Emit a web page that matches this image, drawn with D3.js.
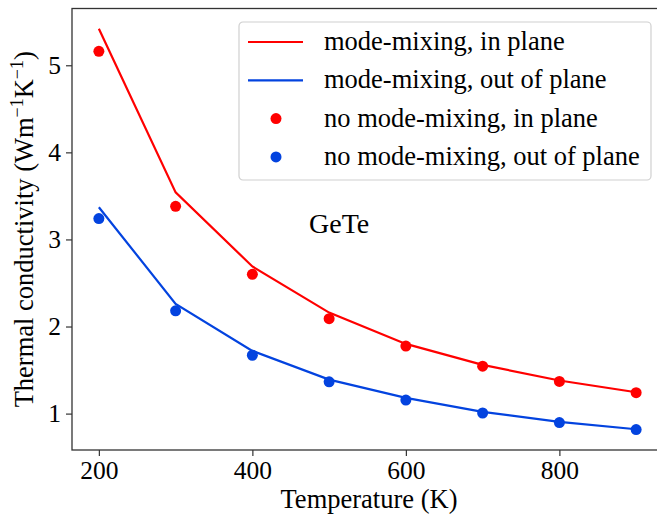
<!DOCTYPE html>
<html>
<head>
<meta charset="utf-8">
<script src="https://cdn.jsdelivr.net/npm/d3@7"></script>
<style>
  body { margin: 0; background: #fff; }
  svg text { font-family: "Liberation Serif", "Times New Roman", serif; fill: #000; }
</style>
</head>
<body>
<script>
var temps = [200, 300, 400, 500, 600, 700, 800, 900];
var mixIn = [5.42, 3.54, 2.69, 2.16, 1.80, 1.56, 1.38, 1.245];
var mixOut = [3.37, 2.26, 1.72, 1.39, 1.18, 1.02, 0.905, 0.82];
var noMixIn = [5.16, 3.38, 2.60, 2.09, 1.775, 1.545, 1.37, 1.24];
var noMixOut = [3.24, 2.18, 1.67, 1.365, 1.155, 1.007, 0.897, 0.816];
var xTicks = [200, 400, 600, 800];
var yTicks = [1, 2, 3, 4, 5];
var legendNames = ["mode-mixing, in plane", "mode-mixing, out of plane",
                   "no mode-mixing, in plane", "no mode-mixing, out of plane"];

var red = "#ff0000";
var blue = "#0343df";

var w = 657;
var h = 517;
var pLeft = 72, pRight = 663, pTop = 8.5, pBottom = 450;

var svg = d3.select("body")
            .append("svg")
            .attr("width", w)
            .attr("height", h);

var xScale = d3.scaleLinear()
              .domain([165, 935])
              .range([pLeft, pRight]);

var yScale = d3.scaleLinear()
              .domain([0.582, 5.652])
              .range([pBottom, pTop]);

var xAxis = d3.axisBottom(xScale)
              .tickValues(xTicks)
              .tickSize(6)
              .tickPadding(5)
              .tickFormat(d3.format("d"));
var yAxis = d3.axisLeft(yScale)
              .tickValues(yTicks)
              .tickSize(6)
              .tickPadding(5)
              .tickFormat(d3.format("d"));

var gx = svg.append("g")
    .attr("transform", "translate(0," + pBottom + ")")
    .call(xAxis);
var gy = svg.append("g")
    .attr("transform", "translate(" + pLeft + ",0)")
    .call(yAxis);

[gx, gy].forEach(function(g) {
  g.select(".domain").remove();
  g.selectAll(".tick line").attr("stroke", "#333").attr("stroke-width", 1.2);
  g.selectAll(".tick text")
    .attr("font-size", 25.5)
    .attr("font-family", "Liberation Serif, serif")
    .attr("fill", "#000");
});
gx.selectAll(".tick text").attr("dy", "0.7em");

// frame
svg.append("rect")
  .attr("x", pLeft)
  .attr("y", pTop)
  .attr("width", pRight - pLeft)
  .attr("height", pBottom - pTop)
  .attr("fill", "none")
  .attr("stroke", "#333")
  .attr("stroke-width", 1.3);

var line = d3.line()
  .x(function(d, i) { return xScale(temps[i]); })
  .y(function(d) { return yScale(d); });

svg.append("path").attr("d", line(mixIn))
  .attr("fill", "none").attr("stroke", red).attr("stroke-width", 2.2);
svg.append("path").attr("d", line(mixOut))
  .attr("fill", "none").attr("stroke", blue).attr("stroke-width", 2.2);

svg.selectAll("circle.in")
  .data(noMixIn)
  .enter()
  .append("circle")
    .attr("class", "in")
    .attr("cx", function(d, i) { return xScale(temps[i]); })
    .attr("cy", function(d) { return yScale(d); })
    .attr("r", 5.5)
    .attr("fill", red);

svg.selectAll("circle.out")
  .data(noMixOut)
  .enter()
  .append("circle")
    .attr("class", "out")
    .attr("cx", function(d, i) { return xScale(temps[i]); })
    .attr("cy", function(d) { return yScale(d); })
    .attr("r", 5.5)
    .attr("fill", blue);

// axis labels
svg.append("text")
  .attr("x", 369)
  .attr("y", 508)
  .attr("text-anchor", "middle")
  .attr("font-size", 26.5)
  .text("Temperature (K)");

var yl = svg.append("text")
  .attr("transform", "translate(33," + ((pTop + pBottom) / 2) + ") rotate(-90)")
  .attr("text-anchor", "middle")
  .attr("font-size", 26.5);
yl.append("tspan").text("Thermal conductivity (Wm");
yl.append("tspan").attr("font-size", 18).attr("dy", -10).text("\u22121");
yl.append("tspan").attr("dy", 10).text("K");
yl.append("tspan").attr("font-size", 18).attr("dy", -10).text("\u22121");
yl.append("tspan").attr("dy", 10).text(")");

svg.append("text")
  .attr("x", 309)
  .attr("y", 233)
  .attr("font-size", 28)
  .text("GeTe");

// legend
var lg = svg.append("g").attr("transform", "translate(239,22)");
lg.append("rect")
  .attr("width", 412)
  .attr("height", 158)
  .attr("rx", 4)
  .attr("fill", "#fff")
  .attr("fill-opacity", 0.8)
  .attr("stroke", "#d0d0d0")
  .attr("stroke-width", 1.2);

var rows = lg.selectAll("g.row")
  .data(legendNames)
  .enter()
  .append("g")
    .attr("class", "row")
    .attr("transform", function(d, i) { return "translate(0," + (20 + i * 38.3) + ")"; });

rows.filter(function(d, i) { return i < 2; })
  .append("line")
    .attr("x1", 9).attr("x2", 64)
    .attr("y1", 0).attr("y2", 0)
    .attr("stroke", function(d, i) { return i === 0 ? red : blue; })
    .attr("stroke-width", 2.2);

rows.filter(function(d, i) { return i >= 2; })
  .append("circle")
    .attr("cx", 37)
    .attr("cy", 0)
    .attr("r", 5.5)
    .attr("fill", function(d, i) { return i === 0 ? red : blue; });

rows.append("text")
  .attr("x", 85)
  .attr("y", 8)
  .attr("font-size", 26.5)
  .text(function(d) { return d; });
</script>
</body>
</html>
